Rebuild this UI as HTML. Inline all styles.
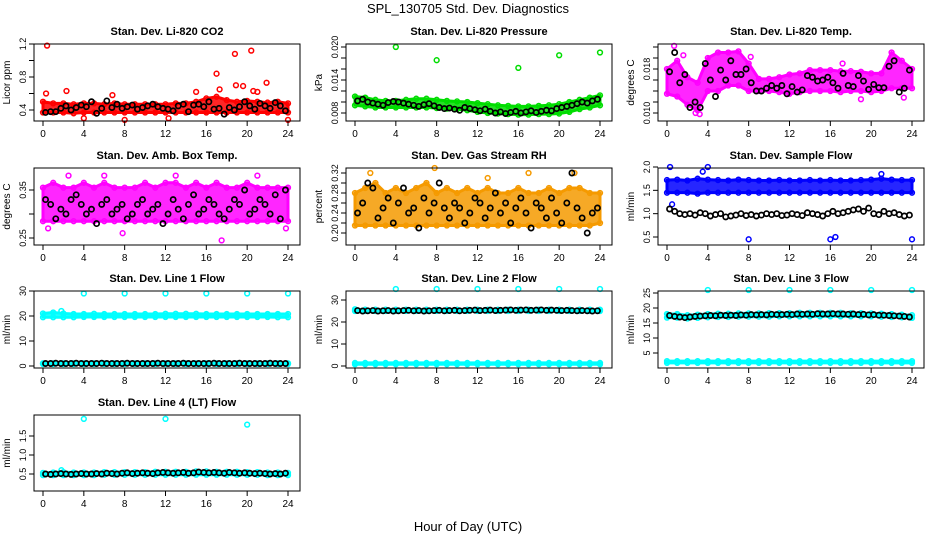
<!DOCTYPE html>
<html><head><meta charset="utf-8"><style>
body{margin:0;background:#fff}
svg{display:block;font-family:"Liberation Sans",sans-serif}
</style></head><body>
<svg id="c" width="936" height="540" viewBox="0 0 936 540">
<text x="468" y="13" text-anchor="middle" font-size="13">SPL_130705  Std. Dev. Diagnostics</text>
<text x="468" y="531" text-anchor="middle" font-size="13">Hour of Day (UTC)</text>
</svg>
<script>
const xTicks=[0,4,8,12,16,20,24];
const bandHours=[0,1,2,3,4,5,6,7,8,9,10,11,12,13,14,15,16,17,18,19,20,21,22,23,24];
const p1Lo=[0.37,0.37,0.37,0.36,0.37,0.37,0.37,0.37,0.37,0.37,0.37,0.37,0.37,0.37,0.37,0.37,0.37,0.37,0.37,0.37,0.37,0.37,0.37,0.37,0.37];
const p1Hi=[0.5,0.48,0.48,0.47,0.48,0.48,0.47,0.48,0.47,0.47,0.47,0.47,0.47,0.48,0.48,0.5,0.54,0.56,0.52,0.5,0.51,0.5,0.49,0.5,0.48];
const p1Out=[[0.4,1.18],[2.3,0.63],[17,0.84],[18.8,1.08],[20.4,1.12],[21.9,0.73],[19.6,0.69],[18.9,0.7],[0.3,0.6],[4,0.3],[8,0.28],[12.3,0.3],[24,0.28],[17.3,0.65],[15,0.62],[21,0.62],[6.8,0.58],[20.6,0.63]];
const p1Blk=[0.37,0.38,0.38,0.42,0.45,0.4,0.43,0.46,0.44,0.5,0.36,0.42,0.51,0.43,0.47,0.42,0.44,0.46,0.41,0.43,0.45,0.47,0.44,0.42,0.41,0.39,0.45,0.47,0.38,0.46,0.47,0.44,0.5,0.41,0.42,0.35,0.43,0.4,0.44,0.5,0.45,0.41,0.48,0.45,0.42,0.49,0.45,0.39];
const p2Lo=[0.0094,0.0092,0.0090,0.0090,0.0090,0.0090,0.0090,0.0090,0.0089,0.0088,0.0087,0.0085,0.0082,0.0080,0.0079,0.0078,0.0077,0.0077,0.0078,0.0078,0.0079,0.0082,0.0087,0.0090,0.0094];
const p2Hi=[0.0110,0.0108,0.0104,0.0102,0.0102,0.0104,0.0106,0.0106,0.0104,0.0102,0.0101,0.0100,0.0098,0.0096,0.0094,0.0093,0.0092,0.0092,0.0093,0.0094,0.0096,0.0100,0.0104,0.0108,0.0112];
const p2Out=[[4,0.0200],[8,0.0176],[16,0.0162],[20,0.0185],[24,0.0190]];
const p2Blk=[0.0102,0.0105,0.0100,0.0098,0.0096,0.0094,0.0099,0.0101,0.0100,0.0098,0.0096,0.0094,0.0092,0.0095,0.0097,0.0093,0.0090,0.0088,0.0089,0.0087,0.0085,0.0090,0.0088,0.0086,0.0084,0.0087,0.0083,0.0080,0.0082,0.0079,0.0081,0.0083,0.0080,0.0082,0.0084,0.0081,0.0083,0.0085,0.0084,0.0088,0.0090,0.0092,0.0094,0.0097,0.0100,0.0098,0.0102,0.0105];
const p3Lo=[0.0135,0.0130,0.0115,0.0105,0.0140,0.0140,0.0150,0.0150,0.0140,0.0140,0.0140,0.0138,0.0135,0.0138,0.0140,0.0140,0.0140,0.0138,0.0140,0.0140,0.0138,0.0140,0.0145,0.0145,0.0145];
const p3Hi=[0.0180,0.0195,0.0165,0.0155,0.0200,0.0210,0.0210,0.0212,0.0190,0.0162,0.0162,0.0165,0.0170,0.0172,0.0178,0.0178,0.0178,0.0176,0.0176,0.0175,0.0172,0.0172,0.0210,0.0195,0.0180];
const p3Out=[[0.7,0.0222],[2.8,0.0100],[3.2,0.0098],[8.2,0.0202],[17.2,0.0190],[19,0.0125],[23.2,0.0128],[1.6,0.0205]];
const p3Blk=[0.0175,0.021,0.0155,0.017,0.011,0.012,0.011,0.019,0.016,0.013,0.0178,0.016,0.0195,0.017,0.017,0.018,0.0155,0.014,0.014,0.0145,0.015,0.0145,0.015,0.0135,0.0148,0.0138,0.0142,0.0168,0.0165,0.0158,0.016,0.0165,0.0155,0.0145,0.0172,0.015,0.0148,0.0168,0.0158,0.0143,0.0152,0.0146,0.0146,0.0185,0.0195,0.0138,0.0145,0.0178];
const p4Lo=[0.285,0.285,0.285,0.285,0.285,0.285,0.285,0.285,0.285,0.285,0.285,0.285,0.285,0.285,0.285,0.285,0.285,0.285,0.285,0.285,0.285,0.285,0.285,0.285,0.285];
const p4Hi=[0.355,0.365,0.355,0.355,0.365,0.355,0.365,0.355,0.355,0.355,0.365,0.355,0.365,0.365,0.355,0.365,0.355,0.365,0.355,0.355,0.365,0.355,0.355,0.355,0.355];
const p4Out=[[2.5,0.38],[6,0.38],[13,0.38],[17.5,0.245],[21,0.38],[7.8,0.26],[23.8,0.27],[0.5,0.27]];
const p4Blk=[0.33,0.32,0.29,0.31,0.3,0.33,0.34,0.32,0.3,0.31,0.28,0.32,0.33,0.3,0.31,0.32,0.29,0.3,0.32,0.33,0.3,0.31,0.32,0.28,0.3,0.33,0.31,0.29,0.32,0.34,0.3,0.31,0.33,0.32,0.3,0.29,0.31,0.33,0.32,0.35,0.3,0.31,0.33,0.32,0.3,0.34,0.29,0.35];
const p5Lo=[0.215,0.215,0.215,0.215,0.215,0.215,0.215,0.215,0.215,0.215,0.215,0.215,0.215,0.215,0.215,0.215,0.215,0.215,0.215,0.215,0.215,0.215,0.215,0.215,0.22];
const p5Hi=[0.28,0.29,0.30,0.28,0.29,0.28,0.29,0.30,0.28,0.29,0.28,0.29,0.28,0.29,0.28,0.28,0.29,0.28,0.28,0.29,0.28,0.29,0.29,0.28,0.28];
const p5Out=[[1.5,0.32],[7.8,0.33],[21.5,0.32],[13,0.31],[17,0.32]];
const p5Blk=[0.24,0.26,0.3,0.29,0.23,0.25,0.27,0.22,0.26,0.29,0.24,0.25,0.21,0.27,0.24,0.26,0.3,0.25,0.23,0.26,0.25,0.22,0.24,0.27,0.26,0.23,0.25,0.28,0.24,0.26,0.22,0.25,0.27,0.24,0.21,0.26,0.25,0.23,0.27,0.24,0.22,0.26,0.32,0.25,0.23,0.2,0.24,0.25];
const p6Lo=[1.45,1.45,1.45,1.43,1.45,1.45,1.45,1.45,1.45,1.45,1.45,1.45,1.45,1.45,1.45,1.45,1.45,1.45,1.45,1.45,1.45,1.45,1.45,1.45,1.45];
const p6Hi=[1.72,1.73,1.71,1.75,1.73,1.72,1.71,1.73,1.72,1.71,1.71,1.72,1.71,1.71,1.72,1.71,1.72,1.71,1.71,1.72,1.73,1.75,1.73,1.72,1.72];
const p6Out=[[0.3,2.0],[4,2.0],[8,0.45],[16,0.45],[16.5,0.5],[24,0.45],[0.5,1.2],[3.5,1.9],[21,1.85]];
const p6Blk=[1.1,1.05,1.0,0.98,1.0,0.97,1.02,1.0,0.95,0.98,1.0,0.93,0.95,0.97,1.0,0.96,0.98,0.95,0.97,1.0,0.98,1.0,0.96,0.97,1.0,0.98,0.96,1.02,1.0,0.98,0.95,1.0,1.05,1.0,1.02,1.05,1.08,1.1,1.05,1.12,1.0,0.98,1.05,1.0,1.02,0.98,0.95,0.97];
const p7Lo=[19.5,19.5,19.5,19.5,19.6,19.6,19.6,19.6,19.6,19.6,19.6,19.6,19.6,19.6,19.6,19.6,19.6,19.6,19.6,19.6,19.6,19.6,19.6,19.5,19.5];
const p7Hi=[21.0,21.4,21.0,20.8,20.8,20.9,20.8,20.8,20.8,20.8,20.8,20.8,20.9,20.9,20.9,20.9,20.8,20.8,20.8,20.8,20.8,20.8,20.8,20.8,20.8];
const p7Lo2=[0.8,0.8,0.8,0.8,0.8,0.8,0.8,0.8,0.8,0.8,0.8,0.8,0.8,0.8,0.8,0.8,0.8,0.8,0.8,0.8,0.8,0.8,0.8,0.8,0.8];
const p7Hi2=[1.1,1.1,1.1,1.1,1.1,1.1,1.1,1.1,1.1,1.1,1.1,1.1,1.1,1.1,1.1,1.1,1.1,1.1,1.1,1.1,1.1,1.1,1.1,1.1,1.1];
const p7Out=[[4,29],[8,29],[12,29],[16,29],[20,29],[24,29],[1.8,22]];
const p7Blk=[1.0,1.0,1.1,1.0,1.0,1.0,1.1,1.0,1.0,1.0,1.0,1.1,1.0,1.0,1.0,1.0,1.1,1.0,1.0,1.0,1.0,1.0,1.1,1.0,1.0,1.0,1.0,1.1,1.0,1.0,1.0,1.0,1.0,1.1,1.0,1.0,1.0,1.0,1.1,1.0,1.0,1.0,1.0,1.0,1.1,1.0,1.0,1.0];
const p8Lo=[25.0,25.0,25.0,25.0,25.0,25.0,25.0,25.0,25.0,25.0,25.0,25.0,25.0,25.0,25.0,25.0,25.0,25.0,25.0,25.0,25.0,25.0,25.0,25.0,25.0];
const p8Hi=[25.8,25.6,25.6,25.6,25.6,25.6,25.6,25.6,25.6,25.6,25.6,25.6,25.6,25.6,25.6,25.6,25.6,25.6,25.6,25.6,25.6,25.6,25.6,25.6,25.6];
const p8Lo2=[0.8,0.8,0.8,0.8,0.8,0.8,0.8,0.8,0.8,0.8,0.8,0.8,0.8,0.8,0.8,0.8,0.8,0.8,0.8,0.8,0.8,0.8,0.8,0.8,0.8];
const p8Hi2=[1.4,1.4,1.4,1.4,1.4,1.4,1.4,1.4,1.4,1.4,1.4,1.4,1.4,1.4,1.4,1.4,1.4,1.4,1.4,1.4,1.4,1.4,1.4,1.4,1.4];
const p8Out=[[4,35],[8,35],[12,35],[16,35],[20,35],[24,35]];
const p8Blk=[25.2,25.0,25.1,25.2,25.0,25.1,25.2,25.0,25.1,25.2,25.3,25.1,25.2,25.0,25.1,25.2,25.3,25.1,25.2,25.3,25.1,25.2,25.3,25.4,25.2,25.3,25.4,25.2,25.3,25.4,25.5,25.3,25.4,25.5,25.3,25.4,25.5,25.3,25.4,25.3,25.2,25.3,25.2,25.1,25.2,25.1,25.0,25.1];
const p9Lo=[16.8,16.8,16.5,16.7,16.9,17.0,17.0,17.1,17.1,17.1,17.1,17.2,17.2,17.2,17.2,17.2,17.2,17.2,17.2,17.2,17.2,17.1,17.0,16.9,16.7];
const p9Hi=[18.0,18.0,17.6,17.8,18.0,18.1,18.1,18.2,18.2,18.2,18.3,18.3,18.3,18.4,18.4,18.4,18.4,18.4,18.3,18.3,18.2,18.1,18.0,17.8,17.6];
const p9Lo2=[1.7,1.7,1.7,1.7,1.7,1.7,1.7,1.7,1.7,1.7,1.7,1.7,1.7,1.7,1.7,1.7,1.7,1.7,1.7,1.7,1.7,1.7,1.7,1.7,1.7];
const p9Hi2=[2.3,2.3,2.3,2.3,2.3,2.3,2.3,2.3,2.3,2.3,2.3,2.3,2.3,2.3,2.3,2.3,2.3,2.3,2.3,2.3,2.3,2.3,2.3,2.3,2.3];
const p9Out=[[4,26],[8,26],[12,26],[16,26],[20,26],[24,26]];
const p9Blk=[17.5,17.2,17.0,16.8,17.0,17.2,17.3,17.4,17.5,17.4,17.6,17.5,17.6,17.5,17.7,17.6,17.8,17.7,17.8,17.7,17.9,17.8,17.8,17.9,17.8,18.0,17.9,18.0,17.9,18.1,18.0,18.0,18.1,18.0,18.0,17.9,18.0,17.8,17.9,17.7,17.8,17.6,17.6,17.5,17.4,17.3,17.2,17.0];
const p10Lo=[0.47,0.47,0.47,0.47,0.47,0.47,0.48,0.48,0.48,0.48,0.48,0.48,0.48,0.48,0.48,0.48,0.48,0.48,0.48,0.48,0.48,0.48,0.47,0.47,0.47];
const p10Hi=[0.53,0.54,0.55,0.54,0.54,0.54,0.55,0.55,0.55,0.55,0.55,0.56,0.56,0.56,0.56,0.57,0.57,0.56,0.56,0.56,0.55,0.55,0.54,0.54,0.53];
const p10Out=[[4,1.95],[12,1.95],[20,1.8],[1.8,0.6]];
const p10Blk=[0.5,0.49,0.5,0.51,0.5,0.49,0.5,0.51,0.5,0.5,0.51,0.5,0.52,0.51,0.5,0.52,0.53,0.51,0.52,0.53,0.52,0.51,0.53,0.54,0.53,0.52,0.53,0.54,0.52,0.53,0.55,0.54,0.53,0.54,0.53,0.52,0.54,0.53,0.52,0.53,0.52,0.51,0.52,0.51,0.5,0.51,0.5,0.52];

const cols=[{bx0:34,bx1:300,x0:43,x24:288},{bx0:346,bx1:612,x0:355,x24:600},{bx0:658,bx1:924,x0:667,x24:912}];
const rows=[{by0:44,by1:121},{by0:168,by1:245},{by0:291,by1:368},{by0:415,by1:491}];
const panels=[
 {name:'co2',title:'Stan. Dev. Li-820 CO2',yl:'Licor ppm',c:0,r:0,m:[0.4,110,1.2,44],ticks:[0.4,0.6,0.8,1.0,1.2],labs:[0.4,0.8,1.2],fmt:1,col:'#ff0000',lo:p1Lo,hi:p1Hi,out:p1Out,blk:p1Blk},
 {name:'pressure',title:'Stan. Dev. Li-820 Pressure',yl:'kPa',c:1,r:0,m:[0.008,113,0.020,47],ticks:[0.008,0.010,0.012,0.014,0.016,0.018,0.020],labs:[0.008,0.014,0.020],fmt:3,col:'#00dd00',lo:p2Lo,hi:p2Hi,out:p2Out,blk:p2Blk},
 {name:'temp',title:'Stan. Dev. Li-820 Temp.',yl:'degrees C',c:2,r:0,m:[0.010,113,0.022,47],ticks:[0.010,0.012,0.014,0.016,0.018,0.020,0.022],labs:[0.010,0.018],fmt:3,col:'#ff00ff',lo:p3Lo,hi:p3Hi,out:p3Out,blk:p3Blk},
 {name:'ambbox',title:'Stan. Dev. Amb. Box Temp.',yl:'degrees C',c:0,r:1,m:[0.25,238,0.35,190],ticks:[0.25,0.30,0.35],labs:[0.25,0.35],fmt:2,col:'#ff00ff',lo:p4Lo,hi:p4Hi,out:p4Out,blk:p4Blk},
 {name:'rh',title:'Stan. Dev. Gas Stream RH',yl:'percent',c:1,r:1,m:[0.20,233,0.32,173],ticks:[0.20,0.22,0.24,0.26,0.28,0.30,0.32],labs:[0.20,0.24,0.28,0.32],fmt:2,col:'#f59a00',lo:p5Lo,hi:p5Hi,out:p5Out,blk:p5Blk},
 {name:'sampleflow',title:'Stan. Dev. Sample Flow',yl:'ml/min',c:2,r:1,m:[0.5,237,2.0,167],ticks:[0.5,1.0,1.5,2.0],labs:[0.5,1.0,1.5,2.0],fmt:1,col:'#0000ff',lo:p6Lo,hi:p6Hi,out:p6Out,blk:p6Blk},
 {name:'line1',title:'Stan. Dev. Line 1 Flow',yl:'ml/min',c:0,r:2,m:[0,366,30,291],ticks:[0,10,20,30],labs:[0,10,20,30],fmt:0,col:'#00ffff',lo:p7Lo,hi:p7Hi,lo2:p7Lo2,hi2:p7Hi2,out:p7Out,blk:p7Blk},
 {name:'line2',title:'Stan. Dev. Line 2 Flow',yl:'ml/min',c:1,r:2,m:[0,366,30,300],ticks:[0,10,20,30],labs:[0,10,20,30],fmt:0,col:'#00ffff',lo:p8Lo,hi:p8Hi,lo2:p8Lo2,hi2:p8Hi2,out:p8Out,blk:p8Blk},
 {name:'line3',title:'Stan. Dev. Line 3 Flow',yl:'ml/min',c:2,r:2,m:[5,353,25,293],ticks:[5,10,15,20,25],labs:[5,10,15,20,25],fmt:0,col:'#00ffff',lo:p9Lo,hi:p9Hi,lo2:p9Lo2,hi2:p9Hi2,out:p9Out,blk:p9Blk},
 {name:'line4',title:'Stan. Dev. Line 4 (LT) Flow',yl:'ml/min',c:0,r:3,m:[0.5,474,1.5,436],ticks:[0.5,1.0,1.5],labs:[0.5,1.0,1.5],fmt:1,col:'#00ffff',lo:p10Lo,hi:p10Hi,out:p10Out,blk:p10Blk}
];
const NS='http://www.w3.org/2000/svg';
const svg=document.getElementById('c');
function mk(tag,attrs,parent,txt){const e=document.createElementNS(NS,tag);for(const k in attrs)e.setAttribute(k,attrs[k]);if(txt!==undefined)e.textContent=txt;parent.appendChild(e);return e;}
panels.forEach(p=>{
 const C=cols[p.c],R=rows[p.r];
 const xs=h=>C.x0+(C.x24-C.x0)*h/24;
 const ys=v=>p.m[1]+(v-p.m[0])*(p.m[3]-p.m[1])/(p.m[2]-p.m[0]);
 const g=mk('g',{},svg);
 
 
 const t=mk('text',{x:(C.bx0+C.bx1)/2,y:R.by0-9,'text-anchor':'middle','font-size':'11','font-weight':'bold'},g,p.title);
 
 
 const yl=mk('text',{x:C.bx0-24,y:(R.by0+R.by1)/2,'text-anchor':'middle','font-size':'10',transform:`rotate(-90 ${C.bx0-24} ${(R.by0+R.by1)/2})`},g,p.yl);
 
 
 const marks=mk('g',{},g);
 
 
 const drawBand=(lo,hi)=>{
  let pts=bandHours.map((h,i)=>xs(h)+','+ys(hi[i]));
  pts=pts.concat(bandHours.map((h,i)=>xs(h)+','+ys(lo[i])).reverse());
  const b=mk('polygon',{points:pts.join(' '),fill:p.col,'fill-opacity':0.85,stroke:p.col,'stroke-width':3,'stroke-linejoin':'round'},marks);
  
  
  bandHours.forEach((h,i)=>{[lo[i],hi[i]].forEach(v=>{
   const c=mk('circle',{cx:xs(h),cy:ys(v),r:2.4,fill:'none',stroke:p.col,'stroke-width':1.5},marks);
   
   
  });});
 };
 drawBand(p.lo,p.hi);
 if(p.lo2)drawBand(p.lo2,p.hi2);
 p.out.forEach(o=>{
  const c=mk('circle',{cx:xs(o[0]),cy:ys(o[1]),r:2.4,fill:'none',stroke:p.col,'stroke-width':1.5},marks);
  
  
 });
 const bk=mk('g',{},g);
 
 
 p.blk.forEach((v,i)=>{
  const c=mk('circle',{cx:xs(0.25+0.5*i),cy:ys(v),r:2.6,fill:'none',stroke:'#000','stroke-width':1.7},bk);
  
  
 });
 const box=mk('rect',{x:C.bx0,y:R.by0,width:C.bx1-C.bx0,height:R.by1-R.by0,fill:'none',stroke:'#000','stroke-width':1},g);
 
 
 const xa=mk('g',{},g);
 
 
 xTicks.forEach(h=>{
  mk('line',{x1:xs(h),x2:xs(h),y1:R.by1,y2:R.by1+5,stroke:'#000'},xa);
  const l=mk('text',{x:xs(h),y:R.by1+16,'text-anchor':'middle','font-size':'10'},xa,String(h));
  
  
 });
 const ya=mk('g',{},g);
 
 
 p.ticks.forEach(v=>{mk('line',{x1:C.bx0-5,x2:C.bx0,y1:ys(v),y2:ys(v),stroke:'#000'},ya);});
 p.labs.forEach(v=>{
  const x=C.bx0-8,y=ys(v);
  const l=mk('text',{x:x,y:y,'text-anchor':'middle','font-size':'9',transform:`rotate(-90 ${x} ${y})`},ya,v.toFixed(p.fmt));
  
  
 });
});
</script>
</body></html>
